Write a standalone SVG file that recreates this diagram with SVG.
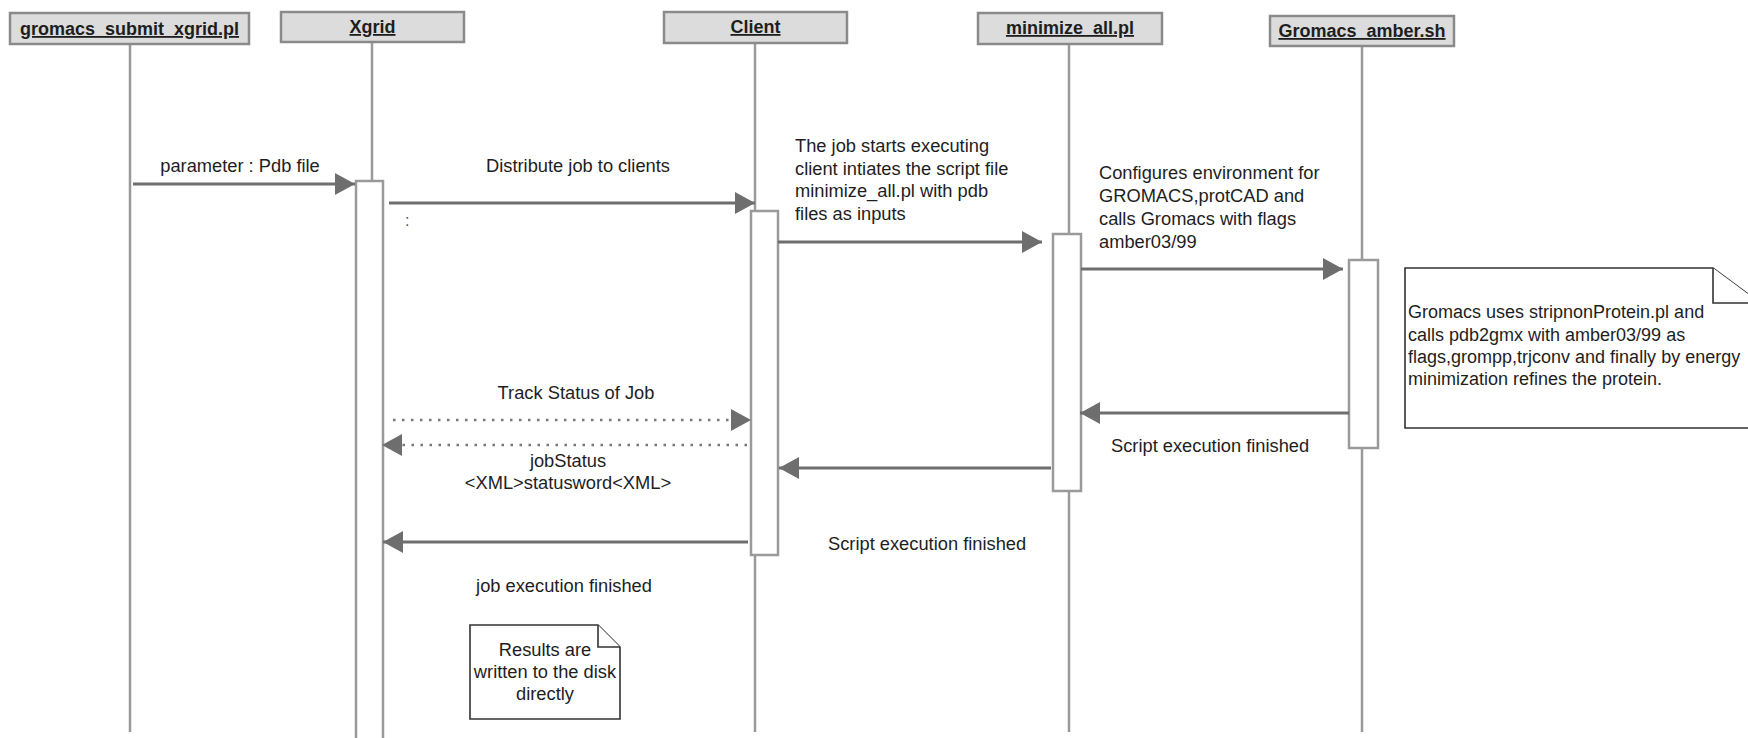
<svg xmlns="http://www.w3.org/2000/svg" width="1748" height="738" viewBox="0 0 1748 738">
<style>
.hdr{fill:#dcdcdc;stroke:#8a8a8a;stroke-width:2.5}
.htxt{font-family:"Liberation Sans",Arial,sans-serif;font-size:18px;font-weight:bold;fill:#1e1e1e;text-anchor:middle;text-decoration:underline}
.life{stroke:#9a9a9a;stroke-width:2.5;fill:none}
.act{fill:#ffffff;stroke:#9a9a9a;stroke-width:2.5}
.msg{stroke:#6e6e6e;stroke-width:3;fill:none}
.dot{stroke:#777;stroke-width:2.5;fill:none;stroke-dasharray:2.5 6.5}
.lbl{font-family:"Liberation Sans",Arial,sans-serif;font-size:18.3px;fill:#1e1e1e}
.mid{text-anchor:middle}
.note{fill:#ffffff;stroke:#333;stroke-width:1.6}
</style>
<defs>
<marker id="ah" markerUnits="userSpaceOnUse" markerWidth="20" markerHeight="22" refX="20" refY="11" orient="auto">
<path d="M0,0 L20,11 L0,22 z" fill="#6e6e6e"/>
</marker>
</defs>
<rect width="1748" height="738" fill="#ffffff"/>

<g id="gromacs_submit">
<line class="life" x1="130" y1="44" x2="130" y2="732"/>
<rect class="hdr" x="10" y="13" width="239" height="31"/>
<text class="htxt" x="129.5" y="35">gromacs_submit_xgrid.pl</text>
</g>

<g id="xgrid">
<line class="life" x1="372" y1="42" x2="372" y2="181"/>
<rect class="act" x="356" y="181" width="27" height="562"/>
<rect class="hdr" x="281" y="12" width="183" height="30"/>
<text class="htxt" x="372.5" y="33">Xgrid</text>
</g>

<g id="client">
<line class="life" x1="755" y1="43" x2="755" y2="211"/>
<line class="life" x1="755" y1="555" x2="755" y2="732"/>
<rect class="act" x="751" y="211" width="27" height="344"/>
<rect class="hdr" x="664" y="12" width="183" height="31"/>
<text class="htxt" x="755.5" y="33">Client</text>
</g>

<g id="minimize_all">
<line class="life" x1="1069" y1="44" x2="1069" y2="234"/>
<line class="life" x1="1069" y1="491" x2="1069" y2="732"/>
<rect class="act" x="1053" y="234" width="28" height="257"/>
<rect class="hdr" x="978" y="13" width="184" height="31"/>
<text class="htxt" x="1070" y="34">minimize_all.pl</text>
</g>

<g id="gromacs_amber">
<line class="life" x1="1362" y1="46" x2="1362" y2="260"/>
<line class="life" x1="1362" y1="448" x2="1362" y2="732"/>
<rect class="act" x="1349" y="260" width="29" height="188"/>
<rect class="hdr" x="1270" y="16" width="184" height="30"/>
<text class="htxt" x="1362" y="37">Gromacs_amber.sh</text>
</g>

<g id="connectors">
<line class="msg" x1="133" y1="184" x2="355" y2="184" marker-end="url(#ah)"/>
<text class="lbl mid" x="240" y="172">parameter : Pdb file</text>

<line class="msg" x1="389" y1="203" x2="755" y2="203" marker-end="url(#ah)"/>
<text class="lbl mid" x="578" y="172">Distribute job to clients</text>
<text class="lbl" x="405" y="226" style="font-size:16px;fill:#555">:</text>

<line class="msg" x1="778" y1="242" x2="1042" y2="242" marker-end="url(#ah)"/>
<text class="lbl" x="795"><tspan x="795" y="152">The job starts executing</tspan><tspan x="795" y="174.5">client intiates the script file</tspan><tspan x="795" y="197">minimize_all.pl with pdb</tspan><tspan x="795" y="219.5">files as inputs</tspan></text>

<line class="msg" x1="1081" y1="269" x2="1343" y2="269" marker-end="url(#ah)"/>
<text class="lbl" x="1099"><tspan x="1099" y="179">Configures environment for</tspan><tspan x="1099" y="202">GROMACS,protCAD and</tspan><tspan x="1099" y="225">calls Gromacs with flags</tspan><tspan x="1099" y="248">amber03/99</tspan></text>

<line class="msg" x1="1349" y1="413" x2="1080" y2="413" marker-end="url(#ah)"/>
<text class="lbl" x="1111" y="452">Script execution finished</text>

<line class="msg" x1="1051" y1="468" x2="779" y2="468" marker-end="url(#ah)"/>

<line class="dot" x1="393" y1="420" x2="733" y2="420"/>
<path d="M731,409 L751,420 L731,431 z" fill="#6e6e6e"/>
<text class="lbl mid" x="576" y="399">Track Status of Job</text>

<line class="dot" x1="747" y1="445" x2="402" y2="445"/>
<path d="M402,434 L382,445 L402,456 z" fill="#6e6e6e"/>
<text class="lbl mid" x="568" y="467">jobStatus</text>
<text class="lbl mid" x="568" y="489">&lt;XML&gt;statusword&lt;XML&gt;</text>

<line class="msg" x1="748" y1="542" x2="383" y2="542" marker-end="url(#ah)"/>
<text class="lbl" x="828" y="550">Script execution finished</text>
<text class="lbl mid" x="564" y="592">job execution finished</text>
</g>

<g id="note_gromacs">
<path class="note" d="M1405,268 L1713,268 L1760,303 L1760,428 L1405,428 z"/>
<path class="note" d="M1713,268 L1713,303 L1760,303" fill="none"/>
<text class="lbl" style="font-size:18px"><tspan x="1408" y="318">Gromacs uses stripnonProtein.pl and</tspan><tspan x="1408" y="341">calls pdb2gmx with amber03/99 as</tspan><tspan x="1408" y="363">flags,grompp,trjconv and finally by energy</tspan><tspan x="1408" y="385">minimization refines the protein.</tspan></text>
</g>

<g id="note_results">
<path class="note" d="M470,625 L598,625 L620,647 L620,719 L470,719 z"/>
<path class="note" d="M598,625 L598,647 L620,647" fill="none"/>
<text class="lbl mid"><tspan x="545" y="656">Results are</tspan><tspan x="545" y="678">written to the disk</tspan><tspan x="545" y="700">directly</tspan></text>
</g>
</svg>
